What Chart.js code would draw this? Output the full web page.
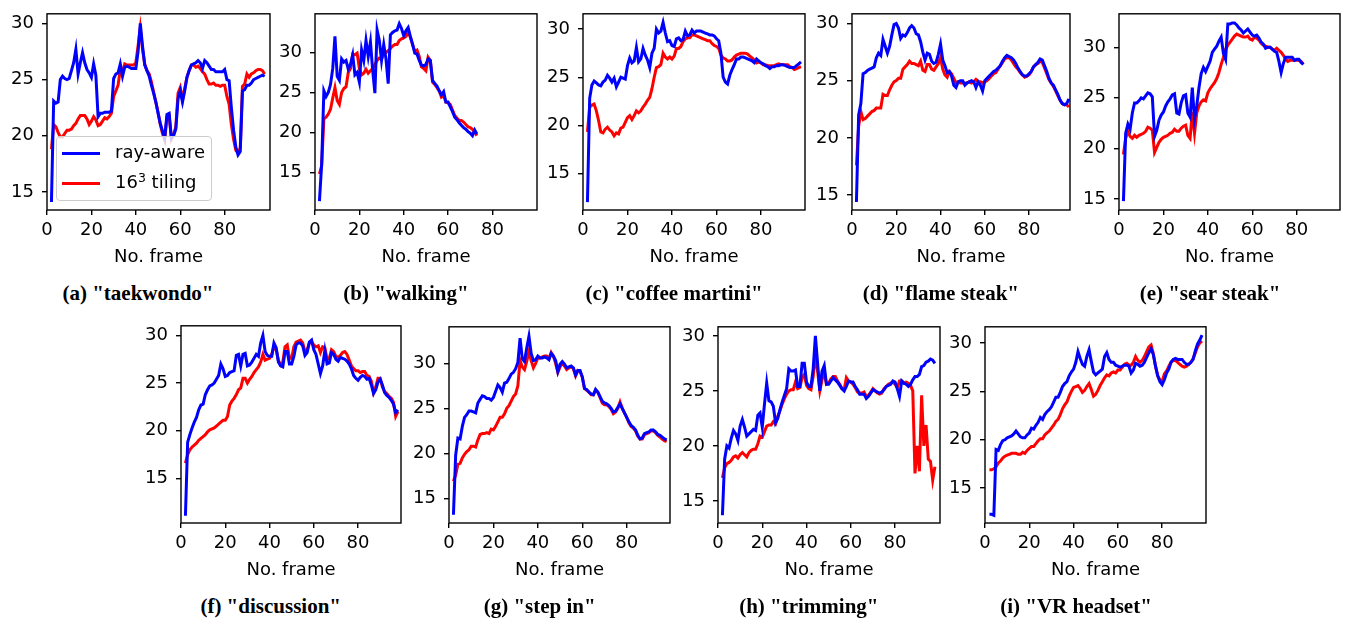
<!DOCTYPE html>
<html>
<head>
<meta charset="utf-8">
<script src="https://cdn.jsdelivr.net/npm/chart.js@4.4.1/dist/chart.umd.min.js"></script>
<style>
  body { margin: 0; background: #fff; width: 1346px; height: 623px; overflow: hidden; position: relative; font-family: "DejaVu Sans", sans-serif; }
  canvas { position: absolute; }
  .cap { position: absolute; font: bold 21px/21px "Liberation Serif", serif; white-space: nowrap; transform: translateX(-50%); color: #000; }
  #legend { position: absolute; left: 56px; top: 136px; width: 154px; height: 63px; border: 1px solid #cccccc; border-radius: 4px; background: rgba(255,255,255,0.8); }
  #legend .ln { position: absolute; left: 5px; width: 38px; height: 3px; }
  #legend .tx { position: absolute; left: 58px; font: 18px/18px "DejaVu Sans", sans-serif; color: #000; white-space: nowrap; }
  #legend sup { font-size: 12.5px; line-height: 0; vertical-align: 6px; }
</style>
</head>
<body>
<div id="legend">
  <div class="ln" style="top:15px;background:#0000ff"></div>
  <div class="tx" style="top:6px">ray-aware</div>
  <div class="ln" style="top:45px;background:#ff0000"></div>
  <div class="tx" style="top:36px">16<sup>3</sup> tiling</div>
</div>
<script>
// frame numbering of every series starts here, one value per frame
const FIRST_FRAME = 2;
const X_TICKS = [0, 20, 40, 60, 80];
const Y_TICKS = [15, 20, 25, 30];
const SERIES = ['ray-aware', '16³ tiling'];
const CAPTIONS = ['(a) "taekwondo"', '(b) "walking"', '(c) "coffee martini"', '(d) "flame steak"', '(e) "sear steak"',
                  '(f) "discussion"', '(g) "step in"', '(h) "trimming"', '(i) "VR headset"'];

const taekwondoRay = [14.1, 23.1, 22.9, 23.0, 25.0, 25.3, 25.1, 25.0, 25.1, 25.8, 26.5, 27.7, 25.5, 26.5, 27.4, 26.5, 25.9, 25.6, 25.2, 26.4,
  25.4, 21.7, 22.0, 22.0, 22.1, 22.1, 22.1, 22.2, 25.1, 25.5, 25.6, 26.4, 25.3, 26.1, 26.2, 26.1, 26.0, 26.0, 26.0, 27.5,
  30.0, 28.0, 26.3, 25.8, 25.3, 24.5, 23.8, 23.0, 22.0, 21.1, 20.4, 19.8, 21.9, 22.0, 19.8, 20.0, 20.6, 23.3, 24.0, 23.0,
  24.0, 25.2, 25.8, 26.3, 26.4, 26.5, 26.7, 26.5, 26.0, 26.7, 26.5, 26.2, 25.9, 25.9, 25.7, 25.7, 25.7, 25.7, 25.9, 25.0,
  24.9, 22.5, 20.5, 19.0, 18.3, 18.6, 24.0, 24.1, 24.5, 24.5, 24.7, 25.0, 25.1, 25.2, 25.3, 25.4, 25.3];
const taekwondoTile = [18.8, 21.0, 20.8, 20.3, 19.9, 19.9, 20.2, 20.5, 20.5, 20.6, 20.9, 21.1, 21.5, 21.8, 21.8, 21.8, 21.5, 21.0, 21.3, 21.7,
  21.4, 20.9, 21.0, 21.3, 21.6, 21.5, 21.7, 22.0, 23.5, 24.0, 24.5, 25.9, 25.7, 26.4, 26.3, 26.3, 26.3, 26.3, 26.5, 28.0,
  29.6, 27.7, 26.4, 25.8, 25.5, 24.8, 23.9, 23.0, 22.1, 21.0, 20.2, 19.6, 21.7, 21.8, 19.7, 20.1, 20.8, 23.8, 24.3, 23.2,
  24.2, 25.2, 25.8, 26.3, 26.3, 26.1, 26.2, 26.0, 25.7, 25.5, 25.0, 24.6, 24.6, 24.7, 24.5, 24.5, 24.4, 24.5, 24.5, 23.5,
  22.8, 21.0, 19.7, 18.7, 18.5, 18.9, 24.4, 24.6, 25.5, 25.2, 25.5, 25.6, 25.8, 25.9, 25.9, 25.8, 25.5];

const walkingRay = [11.4, 16.0, 25.2, 24.5, 25.0, 26.0, 28.0, 32.0, 27.0, 26.5, 29.2, 28.8, 29.0, 27.9, 28.5, 29.7, 27.2, 27.5, 26.3, 30.3,
  29.0, 31.5, 29.5, 31.3, 27.8, 24.9, 32.8, 31.5, 29.0, 31.0, 29.2, 26.1, 32.2, 32.5, 32.7, 32.8, 33.6, 33.0, 32.1, 32.7,
  33.1, 32.0, 31.0, 29.9, 29.8, 29.0, 28.4, 28.3, 28.5, 29.2, 29.0, 26.5, 26.1, 25.8, 25.2, 24.7, 25.1, 23.8, 23.8, 23.2,
  22.6, 21.9, 21.6, 21.2, 20.9, 20.6, 20.4, 20.1, 19.9, 19.6, 20.3, 19.8];
const walkingTile = [14.8, 15.8, 21.7, 21.9, 22.3, 22.9, 24.3, 25.6, 24.0, 23.5, 25.0, 25.5, 25.7, 27.5, 28.0, 29.8, 29.7, 29.9, 28.0, 27.2,
  27.4, 27.9, 27.4, 27.7, 28.0, 28.5, 29.0, 29.3, 29.2, 29.8, 30.0, 30.2, 30.5, 30.8, 31.0, 31.0, 31.5, 31.7, 31.8, 32.0,
  32.5, 31.9, 31.0, 30.1, 30.3, 29.5, 28.2, 28.0, 27.7, 29.4, 29.0, 26.3, 26.0, 25.6, 25.2, 24.4, 24.6, 23.8, 23.7, 23.5,
  22.8, 22.1, 21.8, 21.5, 21.5, 21.3, 21.0, 20.7, 20.6, 20.4, 20.0, 19.6];

const coffeeRay = [12.0, 22.8, 24.2, 24.6, 24.4, 24.2, 24.1, 24.5, 24.7, 25.2, 24.9, 24.5, 24.9, 24.0, 24.5, 25.0, 24.9, 24.8, 26.2, 27.0,
  26.5, 26.7, 28.1, 26.6, 26.9, 28.0, 27.3, 26.8, 26.0, 27.5, 28.0, 30.0, 29.6, 29.8, 30.7, 29.6, 28.7, 28.8, 28.3, 28.2,
  29.0, 29.1, 28.8, 28.9, 29.8, 29.3, 29.4, 29.9, 29.6, 29.8, 29.8, 29.8, 29.7, 29.6, 29.5, 29.4, 29.4, 29.3, 29.0, 28.8,
  27.5, 25.0, 24.5, 24.3, 25.2, 25.8, 26.3, 26.9, 26.9, 27.1, 27.1, 27.0, 26.9, 26.8, 26.7, 26.5, 26.9, 26.7, 26.5, 26.4,
  26.2, 26.1, 25.9, 26.1, 26.1, 26.2, 26.2, 26.3, 26.3, 26.2, 26.1, 26.0, 26.0, 26.0, 26.2, 26.4, 26.6];
const coffeeTile = [19.3, 21.9, 22.1, 22.2, 21.5, 20.5, 19.3, 19.2, 19.6, 19.8, 19.5, 19.3, 18.9, 19.2, 19.1, 19.7, 19.8, 20.3, 20.8, 21.0,
  20.6, 21.0, 21.5, 21.3, 21.5, 21.9, 22.2, 22.6, 22.9, 23.8, 25.0, 26.0, 26.1, 26.3, 27.5, 27.1, 26.9, 27.1, 26.9, 27.2,
  28.0, 28.0, 28.2, 28.7, 29.0, 29.1, 29.1, 29.4, 29.4, 29.3, 29.2, 29.1, 29.0, 28.9, 28.8, 28.8, 28.5, 28.3, 28.2, 28.0,
  27.3, 27.0, 26.9, 26.7, 26.7, 26.8, 27.1, 27.3, 27.4, 27.5, 27.5, 27.5, 27.4, 27.2, 27.0, 26.8, 26.5, 26.6, 26.5, 26.3,
  26.3, 26.2, 26.2, 26.2, 26.2, 26.3, 26.4, 26.3, 26.3, 26.3, 26.3, 26.1, 26.0, 25.8, 25.9, 26.0, 26.1];

const flameRay = [14.4, 22.0, 23.0, 25.6, 25.7, 25.9, 26.0, 26.1, 26.2, 27.0, 27.4, 27.2, 28.6, 28.0, 27.4, 28.0, 29.0, 29.9, 30.0, 29.6,
  28.7, 29.0, 28.9, 29.2, 29.6, 29.8, 29.6, 29.1, 29.0, 28.4, 27.5, 26.8, 27.4, 27.3, 26.7, 26.5, 26.6, 27.3, 28.2, 26.8,
  26.3, 25.7, 25.8, 25.4, 24.6, 24.4, 24.9, 25.0, 25.0, 24.6, 24.8, 24.9, 25.0, 24.9, 24.4, 24.9, 24.6, 24.1, 25.0, 25.2,
  25.4, 25.6, 25.8, 25.9, 26.1, 26.3, 26.7, 27.0, 27.2, 27.1, 27.0, 26.8, 26.5, 26.1, 25.8, 25.5, 25.4, 25.4, 25.6, 25.8,
  26.2, 26.4, 26.6, 26.9, 26.8, 26.3, 25.8, 25.2, 24.8, 24.6, 24.2, 23.8, 23.3, 23.0, 22.9, 23.0, 23.4];
const flameTile = [17.6, 21.0, 22.3, 21.6, 21.7, 21.9, 22.1, 22.3, 22.4, 22.6, 22.6, 22.6, 23.8, 23.7, 23.7, 24.2, 24.6, 24.9, 25.0, 25.2,
  25.2, 26.0, 26.2, 26.4, 26.7, 26.5, 26.5, 26.4, 26.3, 26.7, 25.9, 25.8, 26.4, 26.4, 26.0, 25.9, 26.2, 26.5, 27.0, 26.0,
  25.5, 25.3, 25.8, 25.6, 25.2, 24.8, 24.9, 24.8, 24.8, 24.8, 24.8, 24.9, 24.8, 24.9, 25.1, 24.9, 24.9, 24.8, 24.9, 25.0,
  25.2, 25.4, 25.6, 25.7, 26.0, 26.3, 26.6, 26.9, 27.0, 27.0, 26.8, 26.5, 26.2, 26.0, 25.7, 25.5, 25.3, 25.4, 25.5, 25.8,
  26.2, 26.4, 26.5, 26.7, 26.6, 26.1, 25.6, 25.1, 24.8, 24.5, 24.1, 23.7, 23.3, 23.0, 22.9, 22.9, 22.7];

const searRay = [14.8, 21.5, 22.4, 21.9, 23.5, 24.5, 24.5, 24.7, 25.0, 24.9, 25.2, 25.5, 25.4, 25.1, 21.2, 21.8, 22.8, 23.3, 23.6, 24.2,
  24.6, 24.9, 25.3, 25.4, 23.5, 23.4, 24.5, 25.2, 25.3, 23.5, 23.1, 26.0, 22.9, 24.2, 26.0, 27.4, 28.0, 27.6, 28.1, 28.6,
  29.5, 29.8, 30.1, 30.6, 31.0, 29.4, 28.8, 32.3, 32.3, 32.4, 32.4, 32.2, 31.9, 31.7, 31.4, 31.6, 31.8, 31.5, 31.2, 31.1,
  31.2, 30.9, 30.5, 30.3, 29.9, 30.0, 30.0, 29.8, 29.6, 29.5, 28.6, 27.5, 28.4, 29.0, 29.0, 29.0, 29.0, 28.7, 28.8, 28.8,
  28.5, 28.3];
const searTile = [19.4, 21.0, 21.7, 21.2, 21.0, 21.3, 21.1, 21.3, 21.4, 21.5, 21.7, 22.1, 22.0, 21.8, 19.6, 20.1, 20.6, 20.9, 21.1, 21.2,
  21.3, 21.5, 21.6, 21.9, 21.7, 21.7, 22.0, 22.2, 22.3, 21.3, 21.0, 23.6, 21.5, 23.5, 24.2, 24.6, 24.8, 24.7, 25.5, 25.9,
  26.2, 26.5, 26.9, 27.5, 28.3, 29.0, 29.8, 30.2, 30.5, 30.8, 31.1, 31.3, 31.2, 31.1, 31.0, 31.0, 31.1, 30.8, 30.7, 31.0,
  30.9, 30.7, 30.4, 30.2, 30.1, 30.0, 30.0, 29.8, 29.7, 29.9, 29.7, 29.5, 29.2, 28.8, 28.6, 28.7, 28.7, 28.7, 28.7, 28.7,
  28.6, 28.3];

const discussionRay = [11.1, 18.8, 19.6, 20.3, 20.9, 21.4, 22.2, 22.7, 22.8, 23.8, 24.3, 24.7, 24.8, 25.0, 25.4, 25.8, 27.0, 26.5, 25.7, 25.8,
  26.1, 26.2, 26.3, 27.9, 28.0, 26.8, 28.0, 28.1, 26.8, 26.9, 27.2, 27.6, 28.0, 27.8, 29.2, 30.0, 28.3, 27.9, 27.8, 27.8,
  29.2, 28.7, 27.2, 26.8, 26.7, 28.3, 28.3, 27.0, 27.0, 27.8, 29.0, 29.2, 29.2, 28.9, 27.9, 28.2, 29.3, 29.5, 28.5, 28.0,
  27.0, 26.0, 26.8, 28.4, 27.0, 27.1, 28.2, 28.0, 27.5, 27.3, 27.7, 27.6, 27.5, 27.3, 27.0, 26.5, 25.8, 25.5, 25.3, 25.6,
  25.8, 25.7, 25.4, 25.5, 24.8, 23.9, 24.3, 25.1, 25.4, 24.8, 24.0, 23.7, 23.5, 23.2, 22.8, 21.9, 22.2];
const discussionTile = [16.6, 17.5, 18.0, 18.3, 18.5, 18.7, 19.0, 19.2, 19.4, 19.6, 19.9, 20.1, 20.2, 20.3, 20.5, 20.7, 20.9, 21.1, 21.1, 21.5,
  22.7, 23.1, 23.4, 23.8, 24.3, 24.5, 25.5, 25.5, 25.0, 25.4, 25.7, 26.1, 26.4, 26.7, 27.2, 28.0, 27.4, 27.5, 27.6, 28.0,
  28.8, 28.5, 27.4, 26.9, 27.2, 28.8, 29.0, 27.6, 27.6, 28.8, 29.3, 29.4, 29.5, 29.2, 28.3, 28.5, 29.2, 29.3, 29.0, 28.8,
  28.9, 28.2, 28.8, 28.7, 27.5, 27.6, 28.5, 28.3, 27.8, 27.7, 27.9, 28.2, 28.3, 28.0, 27.4, 26.8, 26.5, 26.3, 26.3, 26.1,
  26.2, 26.2, 25.8, 25.7, 25.2, 24.0, 24.6, 25.5, 25.5, 24.6, 24.1, 23.9, 23.6, 23.4, 23.0, 21.5, 22.0];

const stepInRay = [13.2, 19.8, 21.7, 21.6, 23.0, 24.0, 24.3, 24.7, 24.7, 24.6, 24.5, 25.6, 26.0, 26.4, 26.3, 26.1, 26.1, 25.9, 26.2, 26.9,
  27.6, 27.3, 26.8, 27.8, 27.9, 28.3, 28.8, 29.0, 29.4, 30.1, 32.8, 30.5, 30.2, 31.7, 33.0, 31.1, 30.3, 30.4, 30.8, 30.6,
  30.6, 30.7, 30.6, 30.4, 31.1, 30.8, 30.3, 29.1, 29.9, 30.2, 29.9, 29.5, 29.6, 29.7, 29.5, 28.7, 29.2, 29.2, 28.5, 27.2,
  27.1, 26.8, 26.6, 26.5, 27.1, 26.8, 26.3, 25.8, 25.6, 25.5, 25.3, 25.0, 24.6, 24.7, 25.1, 25.5, 25.0, 24.5, 24.0, 23.5,
  23.1, 22.9, 22.6, 22.0, 21.6, 21.7, 22.2, 22.3, 22.4, 22.6, 22.6, 22.4, 22.1, 22.0, 21.8, 21.6, 21.5];
const stepInTile = [16.9, 17.6, 18.8, 18.9, 19.5, 19.9, 20.2, 20.4, 20.8, 20.8, 20.7, 21.5, 22.1, 22.2, 22.2, 22.3, 22.2, 22.7, 22.6, 23.0,
  23.5, 24.0, 24.0, 24.4, 25.0, 25.3, 25.8, 26.3, 26.6, 27.5, 30.3, 29.6, 29.3, 30.2, 31.3, 30.3, 29.5, 30.0, 30.6, 30.6,
  30.7, 30.8, 30.8, 30.5, 31.2, 30.8, 30.0, 29.0, 29.6, 30.0, 29.7, 29.3, 29.5, 29.6, 29.4, 28.6, 29.2, 29.1, 28.5, 27.2,
  27.0, 26.8, 26.5, 26.5, 27.0, 26.8, 26.2, 25.6, 25.4, 25.4, 25.2, 24.9, 24.4, 24.6, 25.0, 25.7, 25.0, 24.5, 24.0, 23.4,
  23.0, 22.8, 22.5, 21.9, 21.6, 21.6, 22.1, 22.2, 22.3, 22.5, 22.5, 22.3, 22.0, 21.8, 21.6, 21.4, 21.3];

const trimmingRay = [13.7, 18.8, 20.0, 19.8, 20.7, 21.4, 21.1, 20.5, 21.8, 22.4, 21.7, 20.9, 21.1, 21.3, 21.5, 21.4, 22.8, 23.0, 21.7, 23.8,
  25.7, 24.1, 24.0, 23.6, 22.1, 22.5, 23.3, 24.0, 24.6, 25.2, 27.0, 26.8, 26.8, 26.9, 25.4, 25.4, 27.5, 27.5, 25.8, 25.4,
  25.4, 27.0, 30.0, 27.5, 25.0, 26.8, 27.3, 25.6, 25.6, 25.9, 26.2, 26.0, 25.8, 25.5, 25.2, 25.0, 25.4, 25.9, 25.8, 25.8,
  25.4, 25.1, 24.7, 24.7, 24.7, 24.3, 24.5, 24.8, 25.1, 25.0, 24.9, 24.8, 24.9, 25.1, 25.4, 25.5, 25.6, 25.9, 25.8, 25.2,
  24.5, 25.9, 25.7, 25.6, 25.4, 25.6, 26.0, 26.3, 26.3, 26.5, 27.2, 27.3, 27.6, 27.7, 27.9, 27.8, 27.5];
const trimmingTile = [17.1, 18.0, 18.4, 18.5, 18.7, 19.0, 19.1, 18.9, 19.2, 19.4, 19.2, 19.0, 19.4, 19.6, 19.7, 19.7, 20.2, 20.9, 20.8, 21.3,
  21.8, 21.9, 21.9, 22.2, 22.0, 22.7, 23.2, 23.8, 24.3, 24.7, 25.0, 25.1, 25.1, 25.8, 25.2, 25.3, 26.2, 26.5, 25.5, 25.2,
  25.1, 26.3, 28.2, 26.8, 25.0, 26.0, 26.7, 25.6, 25.7, 26.1, 26.3, 26.3, 25.9, 25.6, 25.2, 25.1, 26.2, 25.9, 25.8, 25.6,
  25.3, 24.9, 24.8, 24.8, 24.9, 24.5, 24.6, 24.9, 25.2, 25.0, 24.8, 24.7, 24.8, 25.2, 25.4, 25.6, 25.7, 25.8, 25.6, 25.3,
  25.9, 25.9, 25.7, 25.8, 25.7, 25.5, 25.0, 17.5, 20.0, 17.7, 24.6, 20.0, 21.9, 18.8, 18.6, 16.9, 18.1];

const headsetRay = [12.3, 12.3, 12.2, 19.0, 18.9, 19.5, 19.9, 20.0, 20.2, 20.3, 20.4, 20.6, 20.9, 20.6, 20.3, 20.2, 20.2, 20.5, 20.7, 21.2,
  21.1, 21.5, 21.8, 22.3, 22.1, 22.6, 22.9, 23.1, 23.4, 23.9, 24.4, 24.4, 24.9, 25.5, 25.8, 26.0, 26.6, 27.0, 27.3, 28.0,
  29.1, 28.4, 27.8, 27.6, 28.6, 29.3, 28.1, 27.0, 26.7, 26.9, 27.1, 27.3, 28.6, 29.0, 28.3, 28.0, 28.0, 27.7, 27.6, 27.5,
  27.6, 27.7, 27.7, 27.6, 26.9, 27.2, 27.9, 27.8, 27.6, 27.7, 28.0, 28.5, 29.0, 29.4, 28.8, 27.6, 26.6, 26.0, 25.7, 26.2,
  26.9, 27.3, 28.0, 28.3, 28.4, 28.3, 28.3, 28.3, 28.0, 27.8, 27.8, 28.0, 28.3, 29.2, 29.9, 30.3, 30.8];
const headsetTile = [16.9, 16.9, 17.0, 17.2, 17.6, 17.8, 18.1, 18.3, 18.4, 18.5, 18.6, 18.6, 18.6, 18.5, 18.5, 18.7, 18.6, 18.9, 19.1, 19.3,
  19.3, 19.6, 19.9, 20.1, 20.1, 20.5, 20.7, 20.9, 21.2, 21.5, 21.9, 22.1, 22.6, 23.2, 23.6, 23.9, 24.5, 25.0, 25.4, 25.5,
  25.6, 25.3, 24.9, 25.1, 25.5, 25.8, 25.2, 24.5, 24.7, 25.1, 25.6, 26.0, 26.4, 26.7, 26.6, 26.9, 27.0, 26.9, 27.2, 27.2,
  27.5, 27.8, 27.9, 27.7, 27.7, 28.0, 28.6, 28.2, 28.0, 28.2, 28.6, 29.1, 29.6, 29.8, 28.9, 27.6, 26.6, 26.2, 26.0, 26.8,
  27.1, 27.6, 28.0, 28.2, 28.2, 28.0, 27.8, 27.6, 27.5, 27.6, 27.8, 28.0, 28.4, 29.0, 29.6, 30.0, 30.2];

const RAY = [taekwondoRay, walkingRay, coffeeRay, flameRay, searRay, discussionRay, stepInRay, trimmingRay, headsetRay];
const TILE = [taekwondoTile, walkingTile, coffeeTile, flameTile, searTile, discussionTile, stepInTile, trimmingTile, headsetTile];

// plot boxes on the page [left, top, right, bottom] and axis ranges, per panel
const LAYOUT = [
  { box: [46.7, 7.3, 269.3, 210.7],  xMax: 100.4, yMin: 13.39, yMax: 30.86 },
  { box: [315, 7.3, 537, 210.7],     xMax: 100.1, yMin: 10.30, yMax: 34.83 },
  { box: [583.3, 7.3, 805, 210.7],   xMax: 99.8,  yMin: 11.18, yMax: 31.60 },
  { box: [851.7, 7.3, 1070, 210.7],  xMax: 98.5,  yMin: 13.70, yMax: 30.84 },
  { box: [1119.3, 7.3, 1340.7, 210.7], xMax: 99.5, yMin: 13.92, yMax: 33.30 },
  { box: [180.7, 319.3, 400.7, 523.3], xMax: 99.4, yMin: 10.34, yMax: 31.00 },
  { box: [449.3, 320, 670, 522.7],   xMax: 99.5,  yMin: 12.28, yMax: 34.05 },
  { box: [717.7, 320, 940, 522.7],   xMax: 100.3, yMin: 13.00, yMax: 30.82 },
  { box: [985.3, 320, 1206.7, 522.7], xMax: 99.8, yMin: 11.40, yMax: 31.67 }
];

const PAD_L = 46, PAD_T = 12, PAD_R = 12, PAD_B = 58;
const CAPTION_TOP = [283, 595.8];

const framePlugin = {
  id: 'frame',
  afterDatasetsDraw(chart) {
    const { ctx, chartArea: a } = chart;
    ctx.save();
    ctx.strokeStyle = '#000';
    ctx.lineWidth = 1.4;
    ctx.strokeRect(a.left, a.top, a.right - a.left, a.bottom - a.top);
    ctx.restore();
  }
};

function toPoints(values) {
  return values.map((y, i) => ({ x: FIRST_FRAME + i, y }));
}

LAYOUT.forEach((p, k) => {
  const [l, t, r, b] = p.box;
  const canvas = document.createElement('canvas');
  const left = Math.round(l) - PAD_L, top = Math.round(t) - PAD_T;
  canvas.width = Math.round(r - l) + PAD_L + PAD_R;
  canvas.height = Math.round(b - t) + PAD_T + PAD_B;
  canvas.style.left = left + 'px';
  canvas.style.top = top + 'px';
  document.body.insertBefore(canvas, document.getElementById('legend'));

  const cap = document.createElement('div');
  cap.className = 'cap';
  cap.textContent = CAPTIONS[k];
  cap.style.left = ((l + r) / 2 - 20) + 'px';
  cap.style.top = CAPTION_TOP[k < 5 ? 0 : 1] + 'px';
  document.body.appendChild(cap);

  const tickFont = { family: 'DejaVu Sans', size: 18 };
  new Chart(canvas, {
    type: 'line',
    data: {
      datasets: [
        { label: SERIES[0], data: toPoints(RAY[k]), borderColor: '#0000ff', borderWidth: 3, pointRadius: 0, tension: 0 },
        { label: SERIES[1], data: toPoints(TILE[k]), borderColor: '#ff0000', borderWidth: 3, pointRadius: 0, tension: 0 }
      ]
    },
    options: {
      responsive: false,
      animation: false,
      devicePixelRatio: 1,
      layout: { padding: { left: 0, top: PAD_T, right: PAD_R, bottom: 0 } },
      plugins: { legend: { display: false }, tooltip: { enabled: false } },
      scales: {
        x: {
          type: 'linear', min: 0, max: p.xMax,
          afterBuildTicks: s => { s.ticks = X_TICKS.map(v => ({ value: v })); },
          afterFit: s => { s.height = PAD_B; },
          ticks: { color: '#000', font: tickFont, padding: 5, maxRotation: 0, autoSkip: false },
          grid: { display: true, drawOnChartArea: false, drawTicks: true, tickLength: 5, color: '#000', lineWidth: 1.4 },
          border: { display: false },
          title: { display: true, text: 'No. frame', color: '#000', font: { family: 'DejaVu Sans', size: 18 }, padding: { top: 0, bottom: 0 } }
        },
        y: {
          type: 'linear', min: p.yMin, max: p.yMax,
          afterBuildTicks: s => { s.ticks = Y_TICKS.map(v => ({ value: v })); },
          afterFit: s => { s.width = PAD_L; },
          ticks: { color: '#000', font: tickFont, padding: 8 },
          grid: { display: true, drawOnChartArea: false, drawTicks: true, tickLength: 5, color: '#000', lineWidth: 1.4 },
          border: { display: false }
        }
      }
    },
    plugins: [framePlugin]
  });
});
</script>
</body>
</html>
